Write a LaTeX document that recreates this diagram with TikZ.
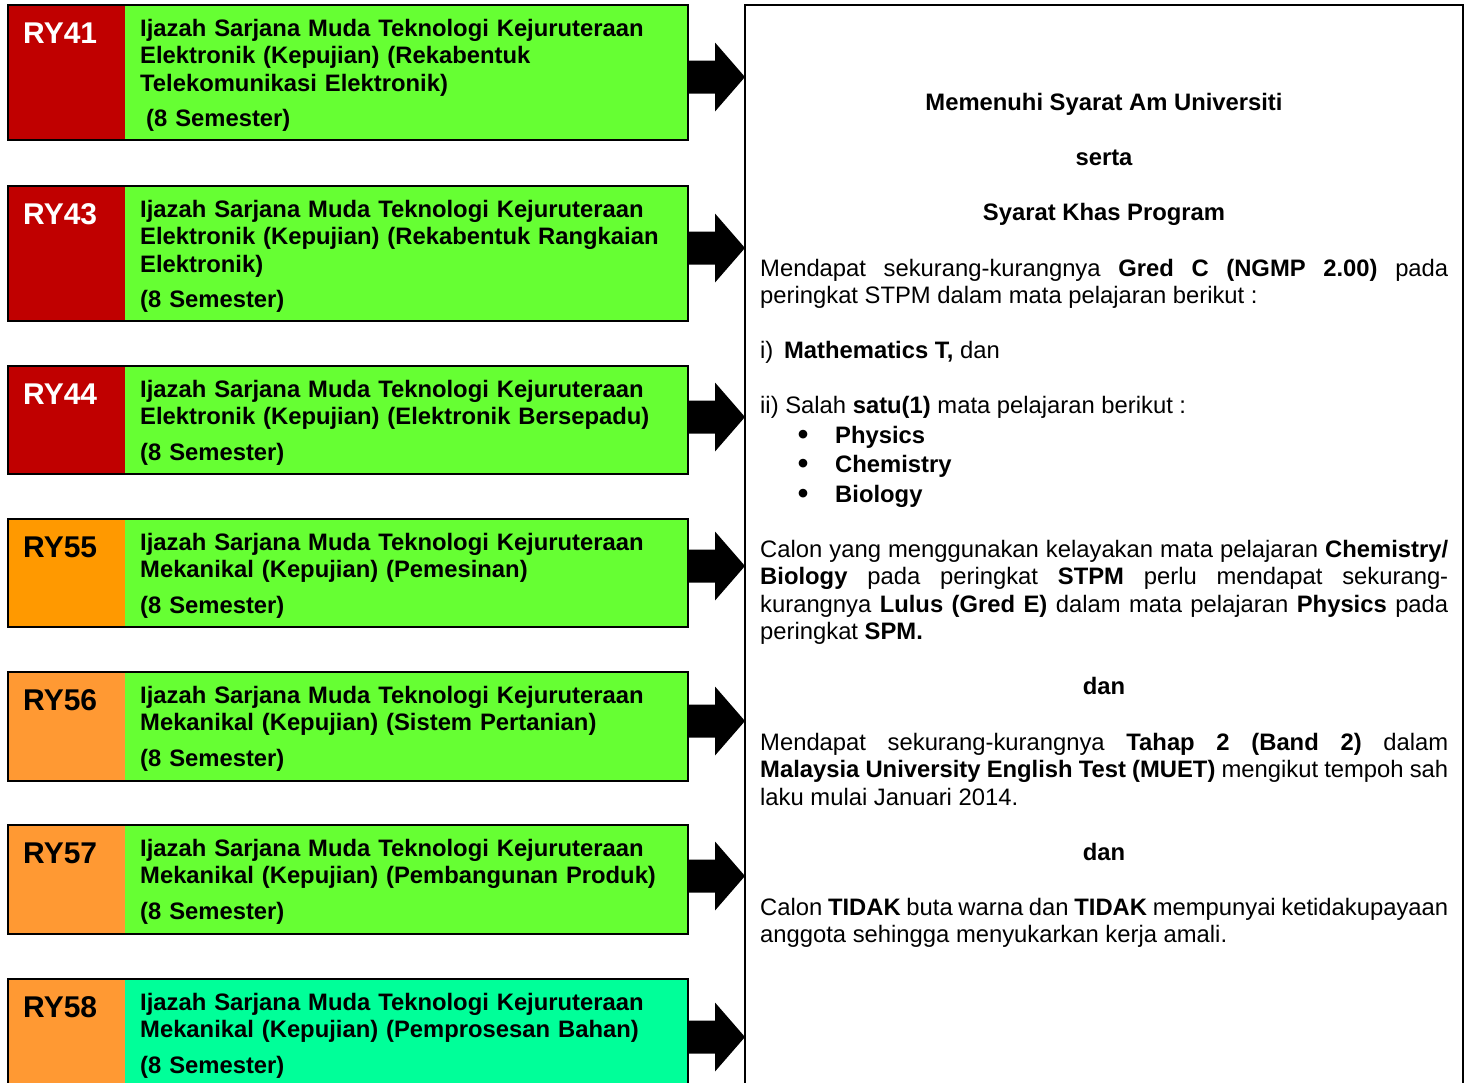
\documentclass[tikz,border=0pt]{standalone}
\usepackage{fontspec}
\setmainfont{Liberation Sans}
\usetikzlibrary{calc}
\definecolor{labred}{HTML}{C00000}
\definecolor{laborange}{HTML}{FF9900}
\definecolor{laborangeb}{HTML}{FF9933}
\definecolor{progreen}{HTML}{66FF33}
\definecolor{progaqua}{HTML}{00FF99}
\newcommand\bodyfont{\fontsize{23.8}{27.6}\selectfont}
\tikzset{
  labbox/.style={anchor=north west, minimum width=117pt, inner sep=0pt, outer sep=0pt},
  progbox/.style={anchor=north west, minimum width=563pt, inner sep=0pt, outer sep=0pt},
  border/.style={draw=black, line width=2pt},
  labtext/.style={anchor=base west, inner sep=0pt, font=\bfseries\fontsize{30}{34}\selectfont},
  progtext/.style={anchor=base west, inner sep=0pt, text width=545pt, align=left, font=\bfseries\bodyfont},
  paratext/.style={anchor=base west, inner sep=0pt, text width=688pt, align=justify, font=\bodyfont},
  headtext/.style={anchor=base, inner sep=0pt, font=\bfseries\bodyfont},
  linetext/.style={anchor=base west, inner sep=0pt, font=\bodyfont},
  bullettext/.style={anchor=base, inner sep=0pt, font=\bfseries\fontsize{30}{34}\selectfont},
  blockarrow/.style={fill=black},
}
\newcommand\progrow[8]{%
  \node[labbox, fill=#4, minimum height=#3pt] (lab#1) at (8,#2) {};
  \node[progbox, fill=#6, minimum height=#3pt] (prog#1) at (125,#2) {};
  \draw[border] (lab#1.north west) rectangle (prog#1.south east);
  \node[labtext, text=#5] (labt#1) at ($(lab#1.north west)+(15,38)$) {#7};
  \node[progtext] (progt#1) at ($(prog#1.north west)+(15,31)$) {#8};
}
\newcommand\rowarrow[2]{%
  \path (prog#1.east) ++(0,#2) coordinate (s#1);
  \fill[blockarrow] (s#1) -- ++(0,-16.5) -- ++(27,0) -- ++(0,-18) -- ++(30,34.5)
    -- ++(-30,34.5) -- ++(0,-18) -- ++(-27,0) -- cycle;
}
\begin{document}
\begin{tikzpicture}[x=1pt, y=-1pt]
\useasboundingbox (0,0) rectangle (1469,1082);
\clip (0,0) rectangle (1469,1082);
\fill[white] (0,0) rectangle (1469,1082);

% right panel
\node[draw=black, line width=2pt, anchor=north west, minimum width=718pt, minimum height=1200pt,
      inner sep=0pt, outer sep=0pt] (panel) at (745,5) {};

% left programme rows
\progrow{41}{5}{135}{labred}{white}{progreen}{RY41}{Ijazah Sarjana Muda Teknologi Kejuruteraan\\Elektronik (Kepujian) (Rekabentuk\\Telekomunikasi Elektronik)}
\node[progtext] (sem41) at ($(prog41.north west)+(21,121)$) {(8 Semester)};

\progrow{43}{186}{135}{labred}{white}{progreen}{RY43}{Ijazah Sarjana Muda Teknologi Kejuruteraan\\Elektronik (Kepujian) (Rekabentuk Rangkaian\\Elektronik)}
\node[progtext] (sem43) at ($(prog43.north west)+(15,121)$) {(8 Semester)};

\progrow{44}{366}{108}{labred}{white}{progreen}{RY44}{Ijazah Sarjana Muda Teknologi Kejuruteraan\\Elektronik (Kepujian) (Elektronik Bersepadu)}
\node[progtext] (sem44) at ($(prog44.north west)+(15,94)$) {(8 Semester)};

\progrow{55}{519}{108}{laborange}{black}{progreen}{RY55}{Ijazah Sarjana Muda Teknologi Kejuruteraan\\Mekanikal (Kepujian) (Pemesinan)}
\node[progtext] (sem55) at ($(prog55.north west)+(15,94)$) {(8 Semester)};

\progrow{56}{672}{109}{laborangeb}{black}{progreen}{RY56}{Ijazah Sarjana Muda Teknologi Kejuruteraan\\Mekanikal (Kepujian) (Sistem Pertanian)}
\node[progtext] (sem56) at ($(prog56.north west)+(15,94)$) {(8 Semester)};

\progrow{57}{825}{109}{laborangeb}{black}{progreen}{RY57}{Ijazah Sarjana Muda Teknologi Kejuruteraan\\Mekanikal (Kepujian) (Pembangunan Produk)}
\node[progtext] (sem57) at ($(prog57.north west)+(15,94)$) {(8 Semester)};

\progrow{58}{979}{109}{laborangeb}{black}{progaqua}{RY58}{Ijazah Sarjana Muda Teknologi Kejuruteraan\\Mekanikal (Kepujian) (Pemprosesan Bahan)}
\node[progtext] (sem58) at ($(prog58.north west)+(15,94)$) {(8 Semester)};

% arrows from each programme to the panel
\rowarrow{41}{4.5}
\rowarrow{43}{-5.5}
\rowarrow{44}{-3}
\rowarrow{55}{-7}
\rowarrow{56}{-5.5}
\rowarrow{57}{-3.5}
\rowarrow{58}{3.5}

% panel text
\node[headtext] (h1) at (1104,110) {Memenuhi Syarat Am Universiti};
\node[headtext] (h2) at (1104,165) {serta};
\node[headtext] (h3) at (1104,220) {Syarat Khas Program};

\node[paratext] (p1) at (760,276) {\hyphenpenalty=10000 Mendapat sekurang-kurangnya \textbf{Gred C (NGMP 2.00)} pada\linebreak peringkat STPM dalam mata pelajaran berikut :};

\node[linetext] (i1) at (760,358) {i)\hspace{0.45em}\textbf{Mathematics T,} dan};
\node[linetext] (i2) at (760,413) {ii) Salah \textbf{satu(1)} mata pelajaran berikut :};
\node[bullettext] (b1) at (803,444) {•};
\node[bullettext] (b2) at (803,473) {•};
\node[bullettext] (b3) at (803,503) {•};
\node[linetext, font=\bfseries\bodyfont] (s1) at (835,443) {Physics};
\node[linetext, font=\bfseries\bodyfont] (s2) at (835,472) {Chemistry};
\node[linetext, font=\bfseries\bodyfont] (s3) at (835,502) {Biology};

\node[paratext] (p2) at (760,557) {\hyphenpenalty=10000 Calon yang menggunakan kelayakan mata pelajaran \textbf{Chemistry/}\linebreak \textbf{Biology} pada peringkat \textbf{STPM} perlu mendapat sekurang-\linebreak kurangnya \textbf{Lulus (Gred E)} dalam mata pelajaran \textbf{Physics} pada\linebreak peringkat \textbf{SPM.}};

\node[headtext] (d1) at (1104,694) {dan};

\node[paratext] (p3) at (760,750) {\hyphenpenalty=10000 Mendapat sekurang-kurangnya \textbf{Tahap 2 (Band 2)} dalam\linebreak \textbf{Malaysia University English Test (MUET)} mengikut tempoh sah\linebreak laku mulai Januari 2014.};

\node[headtext] (d2) at (1104,860) {dan};

\node[paratext] (p4) at (760,915) {\hyphenpenalty=10000 Calon \textbf{TIDAK} buta warna dan \textbf{TIDAK} mempunyai ketidakupayaan\linebreak anggota sehingga menyukarkan kerja amali.};
\end{tikzpicture}
\end{document}
